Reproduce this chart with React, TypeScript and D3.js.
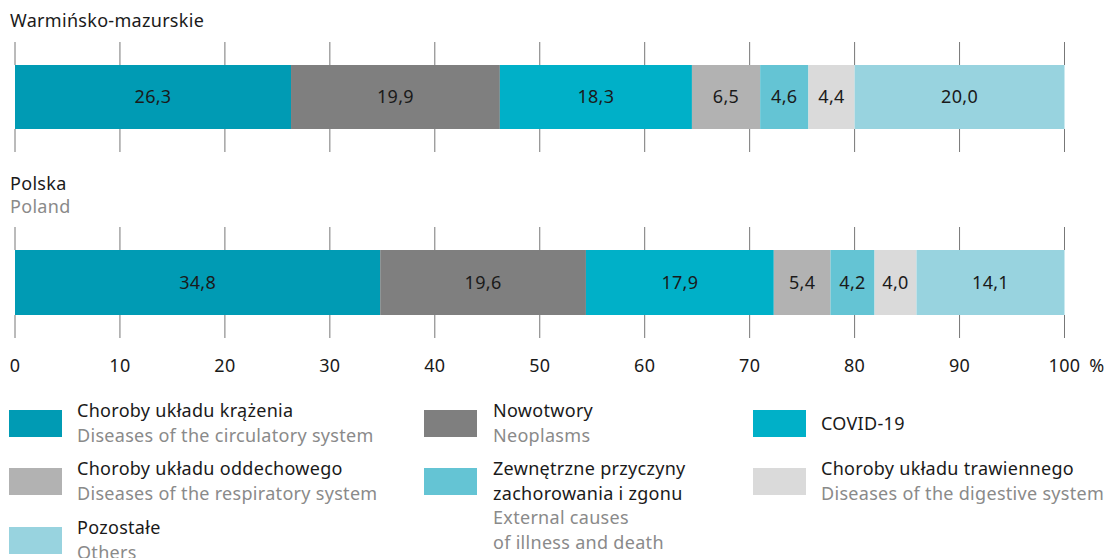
import React from "react";
import * as d3 from "d3";

const categories = [
  "Choroby układu krążenia",
  "Nowotwory",
  "COVID-19",
  "Choroby układu oddechowego",
  "Zewnętrzne przyczyny zachorowania i zgonu",
  "Choroby układu trawiennego",
  "Pozostałe",
];
const warminskoValues = [26.3, 19.9, 18.3, 6.5, 4.6, 4.4, 20.0];
const polskaValues = [34.8, 19.6, 17.9, 5.4, 4.2, 4.0, 14.1];
const colors = ["#009bb4", "#7f7f7f", "#00b0c8", "#b2b2b2", "#64c4d4", "#dadada", "#98d3df"];
const tickValues = [0, 10, 20, 30, 40, 50, 60, 70, 80, 90, 100];

type LegendItem = { pl: string[]; en: string[]; col: number; row: number; cat: number };
const legendItems: LegendItem[] = [
  { pl: ["Choroby układu krążenia"], en: ["Diseases of the circulatory system"], col: 0, row: 0, cat: 0 },
  { pl: ["Nowotwory"], en: ["Neoplasms"], col: 1, row: 0, cat: 1 },
  { pl: ["COVID-19"], en: [], col: 2, row: 0, cat: 2 },
  { pl: ["Choroby układu oddechowego"], en: ["Diseases of the respiratory system"], col: 0, row: 1, cat: 3 },
  { pl: ["Zewnętrzne przyczyny", "zachorowania i zgonu"], en: ["External causes", "of illness and death"], col: 1, row: 1, cat: 4 },
  { pl: ["Choroby układu trawiennego"], en: ["Diseases of the digestive system"], col: 2, row: 1, cat: 5 },
  { pl: ["Pozostałe"], en: ["Others"], col: 0, row: 2, cat: 6 },
];

const FONT = "'Noto Sans', sans-serif";
const FS = 18;
const LS = 0.3;

export default function App() {
  const W = 1109, H = 558;
  const x = d3.scaleLinear().domain([0, 100]).range([15, 1064.5]);
  const fmt = (v: number) => v.toFixed(1).replace(".", ",");

  const bars = [
    { values: warminskoValues, y0: 65, y1: 129, lineTop: 42, lineBot: 152 },
    { values: polskaValues, y0: 250, y1: 315, lineTop: 227, lineBot: 338 },
  ];

  const colX = [9, 424, 753];
  const textX = [77, 493, 821];
  const rowY = [410, 468, 527];

  return (
    <svg width={W} height={H} style={{ position: "absolute", left: 0, top: 0 }} fontFamily={FONT} fontSize={FS} letterSpacing={LS}>
      <rect width={W} height={H} fill="#fff" />
      <text x={10} y={27} fill="#1a1a1a">Warmińsko-mazurskie</text>
      <text x={10} y={190} fill="#1a1a1a">Polska</text>
      <text x={10} y={213} fill="#8a8a8a">Poland</text>

      {bars.map((b, bi) => {
        const stack = d3.cumsum(b.values);
        return (
          <g key={bi}>
            {tickValues.map((t) => (
              <g key={t}>
                <line x1={x(t)} x2={x(t)} y1={b.lineTop} y2={b.y0} stroke="#777" strokeWidth={1} />
                <line x1={x(t)} x2={x(t)} y1={b.y1} y2={b.lineBot} stroke="#777" strokeWidth={1} />
              </g>
            ))}
            {b.values.map((v, i) => {
              const start = i === 0 ? 0 : stack[i - 1];
              const end = stack[i];
              return (
                <g key={i}>
                  <rect x={x(start)} y={b.y0} width={x(end) - x(start)} height={b.y1 - b.y0} fill={colors[i]} />
                  <text x={(x(start) + x(end)) / 2} y={(b.y0 + b.y1) / 2 + 6} textAnchor="middle" fill="#1a1a1a">
                    {fmt(v)}
                  </text>
                </g>
              );
            })}
          </g>
        );
      })}

      {tickValues.map((t) => (
        <text key={t} x={x(t)} y={372} textAnchor="middle" fill="#1a1a1a">{t}</text>
      ))}
      <text x={1097} y={372} textAnchor="middle" fill="#1a1a1a">%</text>

      {legendItems.map((it, i) => {
        const sy = rowY[it.row];
        const lines = it.pl.length + it.en.length;
        const single = lines === 1;
        return (
          <g key={i}>
            <rect x={colX[it.col]} y={sy} width={53} height={27} fill={colors[it.cat]} />
            {single ? (
              <text x={textX[it.col]} y={sy + 20} fill="#1a1a1a">{it.pl[0]}</text>
            ) : (
              <>
                {it.pl.map((l, j) => (
                  <text key={"p" + j} x={textX[it.col]} y={sy + 7 + j * 24.5} fill="#1a1a1a">{l}</text>
                ))}
                {it.en.map((l, j) => (
                  <text key={"e" + j} x={textX[it.col]} y={sy + 7 + (it.pl.length + j) * 24.5} fill="#8a8a8a">{l}</text>
                ))}
              </>
            )}
          </g>
        );
      })}
    </svg>
  );
}
